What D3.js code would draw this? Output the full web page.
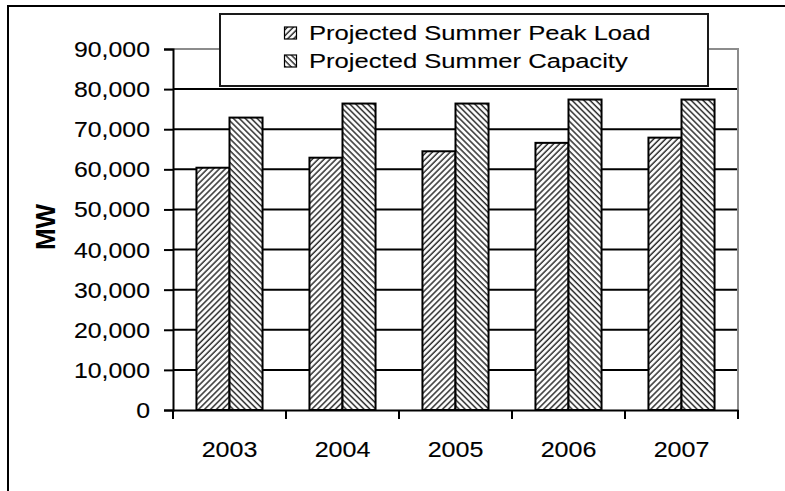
<!DOCTYPE html>
<html>
<head>
<meta charset="utf-8">
<script src="https://cdn.jsdelivr.net/npm/d3@7"></script>
<style>
  html, body { margin: 0; padding: 0; background: #fff; }
  svg { display: block; }
  text { font-family: "Liberation Sans", Arial, sans-serif; fill: #000; }
</style>
</head>
<body>
<script>
// Projected summer peak load vs. capacity, MW
const years = ["2003", "2004", "2005", "2006", "2007"];
const seriesNames = ["Projected Summer Peak Load", "Projected Summer Capacity"];
const peakLoad = [60400, 62900, 64500, 66600, 67900];
const capacity = [72900, 76400, 76400, 77400, 77400];
const yTicks = [0, 10000, 20000, 30000, 40000, 50000, 60000, 70000, 80000, 90000];
const yTitle = "MW";

const W = 785, H = 491;
const plot = { left: 173, right: 738, top: 49, bottom: 410 };

const svg = d3.select("body").append("svg").attr("width", W).attr("height", H);

// hatch fills
const defs = svg.append("defs");
function hatch(id, angle) {
  const p = defs.append("pattern")
    .attr("id", id)
    .attr("patternUnits", "userSpaceOnUse")
    .attr("width", 4.2).attr("height", 10)
    .attr("patternTransform", `rotate(${angle})`);
  p.append("rect").attr("width", 4.2).attr("height", 10).attr("fill", "#fff");
  p.append("line").attr("x1", 1).attr("x2", 1).attr("y1", 0).attr("y2", 10)
    .attr("stroke", "#2e2e2e").attr("stroke-width", 1.5);
}
hatch("hatchLoad", 45);
hatch("hatchCap", -45);
const fills = ["url(#hatchLoad)", "url(#hatchCap)"];

// chart frame
svg.append("rect")
  .attr("x", 8).attr("y", 6).attr("width", 820).attr("height", 520)
  .attr("fill", "none").attr("stroke", "#000").attr("stroke-width", 2);

const x = d3.scaleBand().domain(years).range([plot.left, plot.right]).padding(0);
const xs = d3.scaleBand().domain(seriesNames).range([0, x.bandwidth()])
  .paddingInner(0).paddingOuter(0.71);
const y = d3.scaleLinear().domain([0, 90000]).range([plot.bottom, plot.top]);

// gridlines
svg.append("g").selectAll("line")
  .data(yTicks.filter(v => v > 0 && v < 90000))
  .join("line")
  .attr("x1", plot.left).attr("x2", plot.right)
  .attr("y1", d => y(d)).attr("y2", d => y(d))
  .attr("stroke", "#000").attr("stroke-width", 2);

// plot area border (top / right)
svg.append("path")
  .attr("d", `M${plot.left},${y(90000)}H${plot.right}V${plot.bottom}`)
  .attr("fill", "none").attr("stroke", "#8c8c8c").attr("stroke-width", 2);

// bars
const rows = years.map((yr, i) => ({ year: yr, vals: [peakLoad[i], capacity[i]] }));
const groups = svg.append("g").selectAll("g")
  .data(rows).join("g")
  .attr("transform", d => `translate(${x(d.year)},0)`);
groups.selectAll("rect")
  .data(d => d.vals.map((v, j) => ({ name: seriesNames[j], v, j })))
  .join("rect")
  .attr("x", d => xs(d.name))
  .attr("width", xs.bandwidth())
  .attr("y", d => y(d.v))
  .attr("height", d => y(0) - y(d.v))
  .attr("fill", d => fills[d.j])
  .attr("stroke", "#000").attr("stroke-width", 2);

// y axis
const yAxis = svg.append("g").attr("transform", `translate(${plot.left},0)`)
  .call(d3.axisLeft(y).tickValues(yTicks).tickSize(9).tickFormat(() => ""));
yAxis.select(".domain").attr("stroke", "#000").attr("stroke-width", 2);
yAxis.selectAll(".tick line").attr("stroke", "#000").attr("stroke-width", 2);

const fmt = d3.format(",");
svg.append("g").selectAll("text")
  .data(yTicks).join("text")
  .attr("text-anchor", "end")
  .attr("font-size", 22)
  .attr("stroke", "#000").attr("stroke-width", 0.12)
  .attr("transform", d => `translate(150,${y(d) + 8}) scale(1.13,1)`)
  .text(d => fmt(d));

// x axis
const xAxis = svg.append("g").attr("transform", `translate(0,${plot.bottom})`)
  .call(d3.axisBottom(x).tickSize(0).tickFormat(() => ""));
xAxis.select(".domain").attr("stroke", "#000").attr("stroke-width", 2);
xAxis.selectAll(".tick line").remove();
const bounds = years.map(yr => x(yr)).concat([x(years[years.length - 1]) + x.bandwidth()]);
xAxis.append("g").selectAll("line").data(bounds).join("line")
  .attr("x1", d => d).attr("x2", d => d)
  .attr("y1", 0).attr("y2", 9)
  .attr("stroke", "#000").attr("stroke-width", 2);

svg.append("g").selectAll("text")
  .data(years).join("text")
  .attr("text-anchor", "middle")
  .attr("font-size", 22)
  .attr("stroke", "#000").attr("stroke-width", 0.12)
  .attr("transform", d => `translate(${x(d) + x.bandwidth() / 2},457) scale(1.14,1)`)
  .text(d => d);

// y title
svg.append("text")
  .attr("text-anchor", "middle")
  .attr("font-size", 26)
  .attr("font-weight", "bold")
  .attr("transform", "translate(55,227) rotate(-90) scale(1,1.08)")
  .text(yTitle);

// legend
const legend = svg.append("g");
legend.append("rect")
  .attr("x", 220).attr("y", 14).attr("width", 488).attr("height", 72)
  .attr("fill", "#fff").attr("stroke", "#1a1a1a").attr("stroke-width", 2);
const entries = legend.selectAll("g.entry")
  .data(seriesNames).join("g").attr("class", "entry")
  .attr("transform", (d, i) => `translate(0,${40 + i * 28})`);
entries.append("rect")
  .attr("x", 284.5).attr("y", -13).attr("width", 12).attr("height", 12)
  .attr("fill", (d, i) => fills[i])
  .attr("stroke", "#000").attr("stroke-width", 1.2);
entries.append("text")
  .attr("font-size", 20.5)
  .attr("stroke", "#000").attr("stroke-width", 0.12)
  .attr("transform", "translate(309,0) scale(1.25,1)")
  .text(d => d);
</script>
</body>
</html>
